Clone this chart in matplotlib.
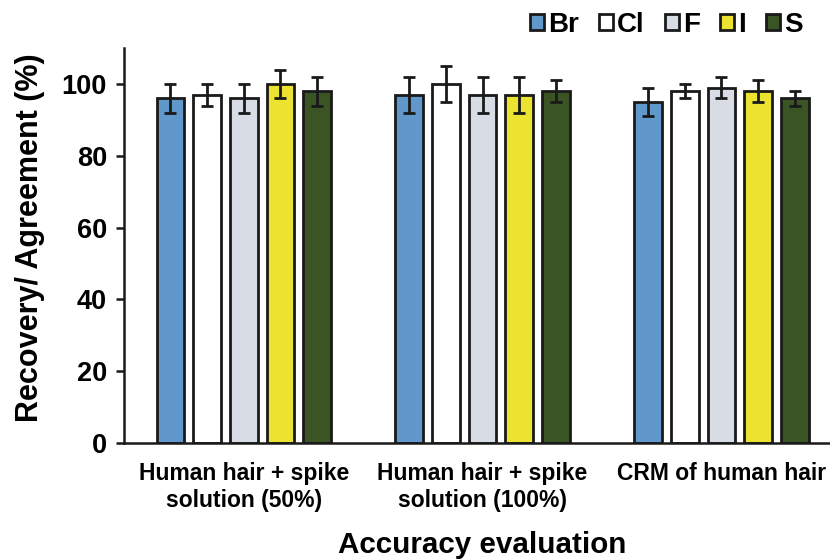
#!/usr/bin/env python3
"""
Accuracy evaluation bar chart: recovery / agreement per halogen and sulfur.
"""

import numpy as np
import matplotlib
matplotlib.use("Agg")
import matplotlib.pyplot as plt

# Data
groups = ["Human hair + spike\nsolution (50%)",
          "Human hair + spike\nsolution (100%)",
          "CRM of human hair"]
elements = ["Br", "Cl", "F", "I", "S"]

br_vals = [96, 97, 95]
cl_vals = [97, 100, 98]
f_vals = [96, 97, 99]
i_vals = [100, 97, 98]
s_vals = [98, 98, 96]

br_err = [4, 5, 4]
cl_err = [3, 5, 2]
f_err = [4, 5, 3]
i_err = [4, 5, 3]
s_err = [4, 3, 2]

colors = ["#6098CB", "#FFFFFF", "#D8DCE4", "#ECE230", "#3A5423"]

plt.rcParams["font.family"] = ["Liberation Sans", "DejaVu Sans"]
plt.rcParams["font.weight"] = "bold"

fig = plt.figure(figsize=(8.3, 5.6), dpi=100)
ax = fig.add_axes([0.149, 0.209, 0.851, 0.705])

values = [br_vals, cl_vals, f_vals, i_vals, s_vals]
errors = [br_err, cl_err, f_err, i_err, s_err]

x = np.arange(len(groups))
step = 0.1537
width = 0.116

for k, (name, vals, errs, col) in enumerate(zip(elements, values, errors, colors)):
    pos = x + (k - 2) * step
    ax.bar(pos, vals, width, color=col, edgecolor="#1a1a1a", linewidth=2.0,
           label=name, zorder=2)
    ax.errorbar(pos, vals, yerr=errs, fmt="none", ecolor="#1a1a1a",
                elinewidth=2.0, capsize=4, capthick=2.0, zorder=3)

ax.set_xlim(-0.503, 2.455)
ax.set_ylim(0, 110)
ax.set_yticks(np.arange(0, 101, 20))
ax.set_xticks(x)
ax.set_xticklabels(groups, fontsize=16.5, fontweight="bold")

for lab in ax.get_yticklabels():
    lab.set_fontsize(19.5)
    lab.set_fontweight("bold")

ax.tick_params(axis="y", length=6, width=1.8, pad=6, color="#1a1a1a")
ax.tick_params(axis="x", length=0, pad=14)

for side in ["top", "right"]:
    ax.spines[side].set_visible(False)
for side in ["left", "bottom"]:
    ax.spines[side].set_linewidth(1.8)
    ax.spines[side].set_color("#1a1a1a")

ax.set_ylabel("Recovery/ Agreement (%)", fontsize=22, fontweight="bold")
ax.yaxis.set_label_coords(-0.112, 0.52)
ax.set_xlabel("Accuracy evaluation", fontsize=21.3, fontweight="bold")
ax.xaxis.set_label_coords(0.507, -0.224)

fig.legend(loc="upper right", bbox_to_anchor=(0.984, 1.004), ncol=5,
           frameon=False, prop={"size": 20, "weight": "bold"},
           handlelength=0.5, handleheight=0.5, handletextpad=0.15,
           columnspacing=0.73, borderaxespad=0.1)

fig.savefig("out.png", dpi=100)
plt.close(fig)
